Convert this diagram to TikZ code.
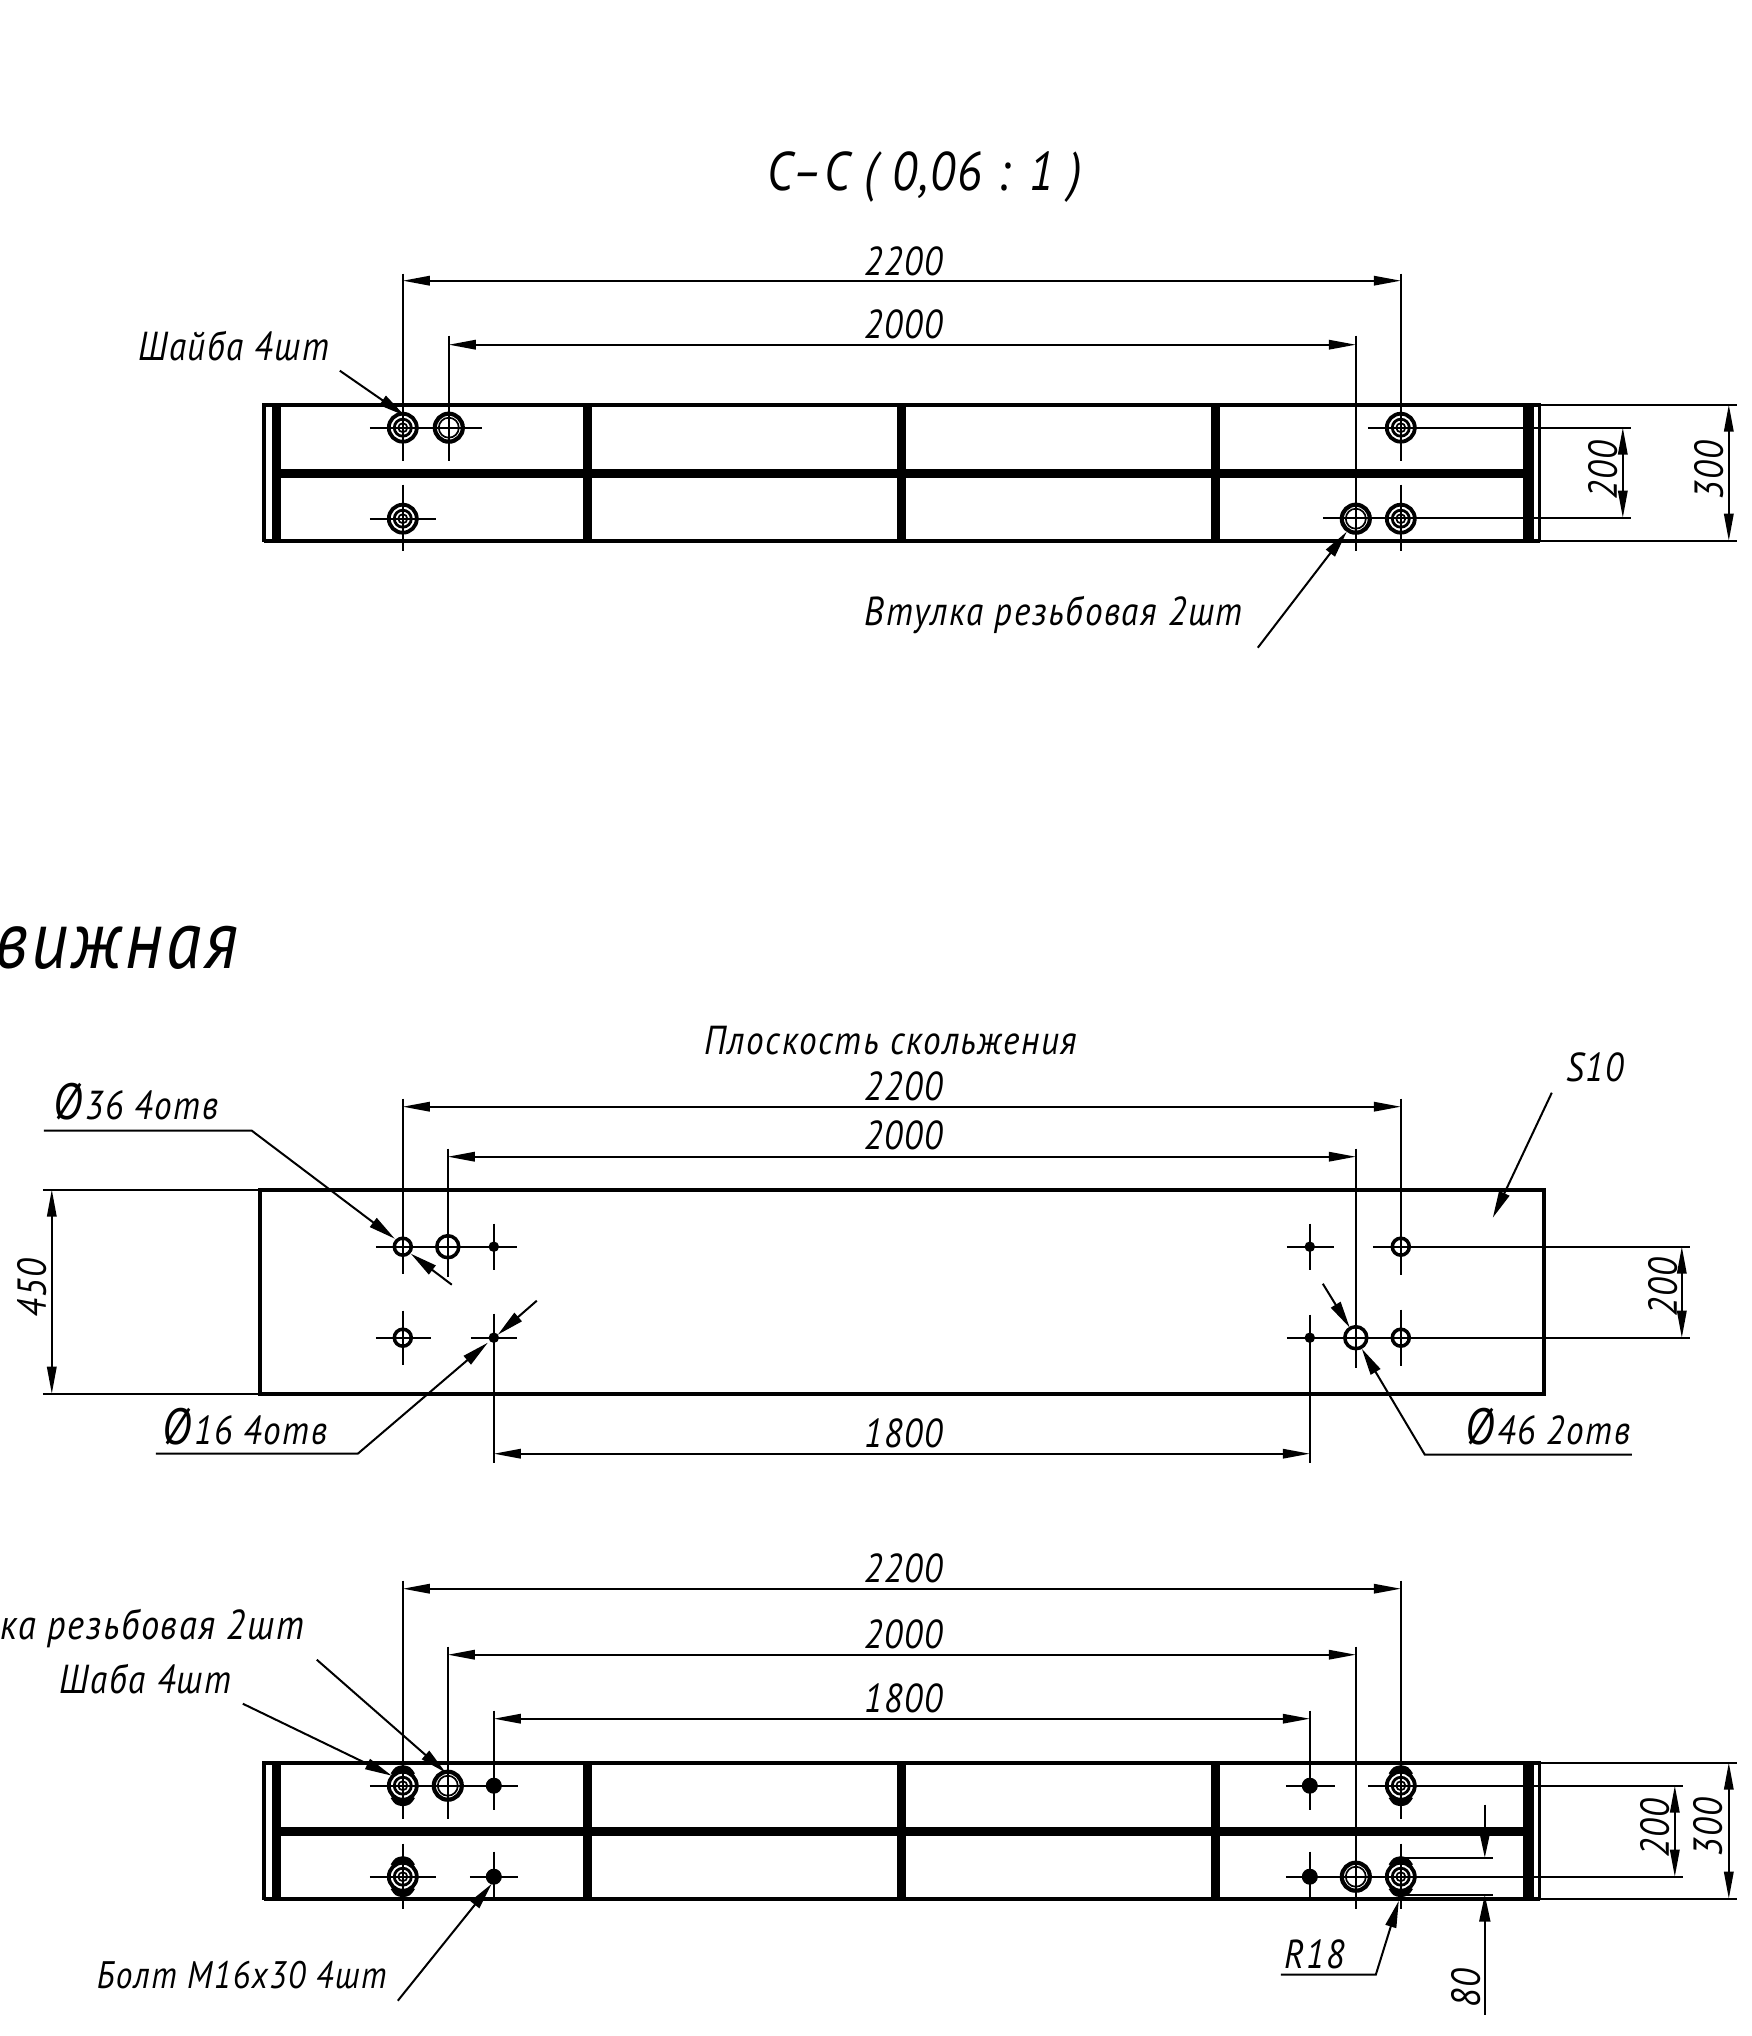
\documentclass[tikz,border=0pt]{standalone}
\usepackage{fontspec}
\setmainfont[LetterSpace=4,FakeStretch=0.87]{PT Sans}
\usetikzlibrary{arrows.meta}
\tikzset{
	thinline/.style={line width=0.17mm},
	mainline/.style={line width=0.38mm},
	barline/.style={line width=0.87mm},
	dimline/.style={line width=0.17mm, {Triangle[length=2.7mm,width=0.95mm]}-{Triangle[length=2.7mm,width=0.95mm]}},
	leaderline/.style={line width=0.2mm, -{Triangle[length=2.7mm,width=1.1mm]}},
	lab/.style={font=\fontsize{11.5}{13}\selectfont\itshape, inner sep=0pt},
	biglab/.style={font=\fontsize{15.5}{20}\selectfont\itshape, inner sep=0pt},
}
\def\diam{{\fontsize{14.5}{13}\selectfont Ø}\kern1pt}
\def\washer(#1,#2){
	\draw[line width=0.38mm] (#1,#2) circle (14);
	\draw[line width=0.28mm] (#1,#2) circle (8.5);
	\draw[thinline] (#1,#2) circle (4.5);
}
\def\bushing(#1,#2){
	\draw[line width=0.42mm] (#1,#2) circle (14);
	\draw[thinline] (#1,#2) circle (10);
}
\def\slotwasher(#1,#2){
	\washer(#1,#2)
	\draw[line width=0.5mm] (#1-10,#2-11) .. controls (#1-6,#2-17) .. (#1,#2-18) .. controls (#1+6,#2-17) .. (#1+10,#2-11);
	\draw[line width=0.5mm] (#1-10,#2+11) .. controls (#1-6,#2+17) .. (#1,#2+18) .. controls (#1+6,#2+17) .. (#1+10,#2+11);
}
\def\nutmark(#1,#2){
	\draw[fill=black, line width=0.1mm] (#1,#2) circle (7.5);
	\draw[white, line width=0.05mm] (#1-3,#2) -- (#1+3,#2);
}
\def\frameview(#1,#2){
	% #1 top edge, #2 bottom edge
	\draw[line width=0.3mm] (263,#1) rectangle (1539,#2);
	\draw[mainline] (263,#1) -- (1539,#1);
	\draw[mainline] (263,#2) -- (1539,#2);
	\draw[mainline] (263,#1) -- (263,#2);
	\draw[line width=0.3mm] (1532,#1) -- (1532,#2);
	\draw[barline] (276,#1) -- (276,#2);
	\draw[barline] (587,#1) -- (587,#2);
	\draw[barline] (901,#1) -- (901,#2);
	\draw[barline] (1215,#1) -- (1215,#2);
	\draw[barline] (1527,#1) -- (1527,#2);
	\draw[line width=0.92mm] (276,{(#1+#2)/2+1}) -- (1527,{(#1+#2)/2+1});
}
\begin{document}
\begin{tikzpicture}[x=0.01cm,y=-0.01cm]
	\useasboundingbox (0,0) rectangle (1751,2036);
	\begin{scope}[shift={(0.8,0.7)}]
	%%%%% TOP VIEW %%%%%
	\node[biglab] (titlecc) at (924,176) {С–С ( 0,06 : 1 )};
	\frameview(404,540)
	\washer(402,427)
	\bushing(448,427)
	\washer(402,518)
	\washer(1400,427)
	\bushing(1355,518)
	\washer(1400,518)

	\draw[thinline] (369,427) -- (481,427);
	\draw[thinline] (369,518) -- (435,518);
	\draw[thinline] (402,273) -- (402,460);
	\draw[thinline] (448,335) -- (448,460);
	\draw[thinline] (402,484) -- (402,550);
	\draw[thinline] (1355,335) -- (1355,550);
	\draw[thinline] (1400,273) -- (1400,460);
	\draw[thinline] (1400,484) -- (1400,550);
	\draw[thinline] (1367,427) -- (1630,427);
	\draw[thinline] (1322,517) -- (1630,517);
	\draw[thinline] (1539,404) -- (1736,404);
	\draw[thinline] (1539,540) -- (1736,540);

	\draw[dimline] (402,280) -- (1400,280);
	\draw[dimline] (448,344) -- (1355,344);
	\draw[dimline] (1622,427) -- (1622,517);
	\draw[dimline] (1728,404) -- (1728,540);
	\node[lab] (topa) at (903,261) {2200};
	\node[lab] (topb) at (903,324) {2000};
	\node[lab, rotate=90] (topc) at (1602,470) {200};
	\node[lab, rotate=90] (topd) at (1708,470) {300};

	\node[lab] (washertop) at (233,345) {Шайба 4шт};
	\draw[leaderline] (339,370) -- (404,415);
	\node[lab] (bushtop) at (1053,614) {Втулка резьбовая 2шт};
	\draw[leaderline] (1257,647) -- (1346,531);

	%%%%% PLATE %%%%%
	\node[lab, font=\fontsize{23.5}{30}\selectfont\itshape, anchor=base east] (platetitle) at (238,968) {вижная};
	\draw[mainline] (259,1189) rectangle (1543,1393);

	\draw[line width=0.35mm] (402,1246) circle (8.5);
	\draw[line width=0.35mm] (447,1246) circle (11);
	\draw[fill=black] (493,1246) circle (4.5);
	\draw[line width=0.35mm] (402,1337) circle (8.5);
	\draw[fill=black] (493,1337) circle (4.5);
	\draw[fill=black] (1309,1246) circle (4.5);
	\draw[line width=0.35mm] (1400,1246) circle (8.5);
	\draw[fill=black] (1309,1337) circle (4.5);
	\draw[line width=0.35mm] (1355,1337) circle (11);
	\draw[line width=0.35mm] (1400,1337) circle (8.5);

	\draw[thinline] (375,1246) -- (516,1246);
	\draw[thinline] (402,1098) -- (402,1273);
	\draw[thinline] (447,1148) -- (447,1276);
	\draw[thinline] (493,1223) -- (493,1269);
	\draw[thinline] (375,1337) -- (430,1337);
	\draw[thinline] (402,1310) -- (402,1364);
	\draw[thinline] (470,1337) -- (516,1337);
	\draw[thinline] (493,1313) -- (493,1462);
	\draw[thinline] (1286,1246) -- (1333,1246);
	\draw[thinline] (1309,1223) -- (1309,1269);
	\draw[thinline] (1372,1246) -- (1689,1246);
	\draw[thinline] (1400,1098) -- (1400,1274);
	\draw[thinline] (1355,1148) -- (1355,1367);
	\draw[thinline] (1286,1337) -- (1689,1337);
	\draw[thinline] (1309,1314) -- (1309,1462);
	\draw[thinline] (1400,1309) -- (1400,1365);
	\draw[thinline] (42,1189) -- (259,1189);
	\draw[thinline] (42,1393) -- (259,1393);

	\draw[dimline] (402,1106) -- (1400,1106);
	\draw[dimline] (447,1156) -- (1355,1156);
	\draw[dimline] (493,1453) -- (1309,1453);
	\draw[dimline] (1681,1246) -- (1681,1337);
	\draw[dimline] (51,1189) -- (51,1393);
	\node[lab] (platelabel) at (890,1040) {Плоскость скольжения};
	\node[lab] (platea) at (903,1086) {2200};
	\node[lab] (plateb) at (903,1135) {2000};
	\node[lab] (platec) at (903,1433) {1800};
	\node[lab, rotate=90] (plated) at (1662,1287) {200};
	\node[lab, rotate=90] (platee) at (31,1288) {450};

	\node[lab] (thick) at (1594,1067) {S10};
	\draw[leaderline] (1551,1092) -- (1492,1217);

	\node[lab] (holea) at (135,1101) {\diam36 4отв};
	\draw[leaderline] (43,1130) -- (251,1130) -- (394,1238);
	\draw[leaderline] (451,1284) -- (410,1253);
	\node[lab] (holeb) at (244,1426) {\diam16 4отв};
	\draw[leaderline] (155,1453) -- (357,1453) -- (487,1342);
	\draw[leaderline] (536,1300) -- (497,1334);
	\node[lab] (holec) at (1547,1426) {\diam46 2отв};
	\draw[leaderline] (1631,1454) -- (1424,1454) -- (1361,1348);
	\draw[leaderline] (1322,1283) -- (1349,1327);

	%%%%% BOTTOM VIEW %%%%%
	\frameview(1762,1898)
	\slotwasher(402,1785)
	\bushing(447,1785)
	\nutmark(493,1785)
	\slotwasher(402,1876)
	\nutmark(493,1876)
	\nutmark(1309,1785)
	\slotwasher(1400,1785)
	\nutmark(1309,1876)
	\bushing(1355,1876)
	\slotwasher(1400,1876)

	\draw[thinline] (369,1785) -- (517,1785);
	\draw[thinline] (369,1876) -- (435,1876);
	\draw[thinline] (469,1876) -- (517,1876);
	\draw[thinline] (402,1580) -- (402,1818);
	\draw[thinline] (402,1843) -- (402,1908);
	\draw[thinline] (447,1646) -- (447,1818);
	\draw[thinline] (493,1710) -- (493,1809);
	\draw[thinline] (493,1851) -- (493,1900);
	\draw[thinline] (1285,1785) -- (1334,1785);
	\draw[thinline] (1309,1710) -- (1309,1809);
	\draw[thinline] (1309,1851) -- (1309,1900);
	\draw[thinline] (1285,1876) -- (1682,1876);
	\draw[thinline] (1367,1785) -- (1682,1785);
	\draw[thinline] (1355,1646) -- (1355,1908);
	\draw[thinline] (1400,1580) -- (1400,1818);
	\draw[thinline] (1400,1843) -- (1400,1908);
	\draw[thinline] (1539,1762) -- (1736,1762);
	\draw[thinline] (1539,1898) -- (1736,1898);
	\draw[thinline] (1400,1857) -- (1492,1857);
	\draw[thinline] (1400,1894) -- (1492,1894);

	\draw[dimline] (402,1588) -- (1400,1588);
	\draw[dimline] (447,1654) -- (1355,1654);
	\draw[dimline] (493,1718) -- (1309,1718);
	\draw[dimline] (1674,1785) -- (1674,1876);
	\draw[dimline] (1728,1762) -- (1728,1898);
	\draw[leaderline] (1484,1804) -- (1484,1857);
	\draw[leaderline] (1484,2014) -- (1484,1894);
	\node[lab] (basea) at (903,1568) {2200};
	\node[lab] (baseb) at (903,1634) {2000};
	\node[lab] (basec) at (903,1698) {1800};
	\node[lab, rotate=90] (based) at (1654,1828) {200};
	\node[lab, rotate=90] (basee) at (1707,1827) {300};
	\node[lab, rotate=90] (basef) at (1465,1988) {80};

	\node[lab] (radius) at (1314,1954) {R18};
	\draw[leaderline] (1280,1974) -- (1375,1974) -- (1398,1900);
	\node[lab, font=\fontsize{11.9}{13}\selectfont\itshape, anchor=east] (bushbase) at (304,1628) {ка резьбовая 2шт};
	\draw[leaderline] (316,1659) -- (445,1772);
	\node[lab] (washerbase) at (145,1678) {Шаба 4шт};
	\draw[leaderline] (242,1703) -- (391,1775);
	\node[lab, font=\fontsize{10.9}{13}\selectfont\itshape] (boltbase) at (241,1974) {Болт М16х30 4шт};
	\draw[leaderline] (397,2000) -- (491,1883);
	%%%%% END %%%%%
	\end{scope}
\end{tikzpicture}
\end{document}
